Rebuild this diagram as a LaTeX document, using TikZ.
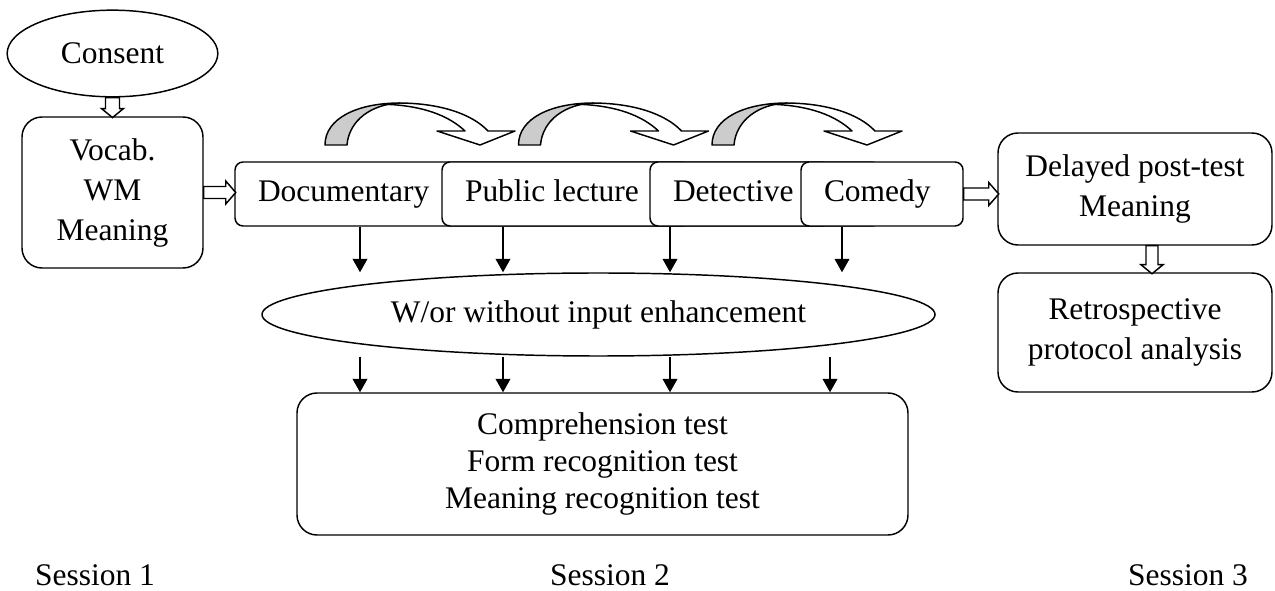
\documentclass[tikz,border=0pt]{standalone}
\usepackage{fontspec}
\setmainfont{Liberation Serif}
\usetikzlibrary{shapes.geometric,arrows.meta}

\tikzset{every picture/.style={line width=1.1pt}}
\tikzset{
  roundbox/.style={draw, rounded corners=15pt, align=center, inner sep=0pt},
  filmbox/.style={draw, fill=white, rounded corners=6pt, align=flush left, inner xsep=17.25pt, inner ysep=0pt, minimum height=48pt, text height=16pt, text depth=5pt},
  oval/.style={draw, ellipse, inner sep=0pt},
  downarrow/.style={-{Triangle[width=11pt,length=10pt]}},
  blockarrow/.style={draw, fill=white, line join=miter},
  bandfront/.style={draw, fill=white, line join=round},
  bandback/.style={draw, fill=gray!40, line join=round},
}

\begin{document}
\begin{tikzpicture}[x=0.75pt,y=0.75pt,yscale=-1,xscale=1, font=\fontsize{23.6}{30}\selectfont]

\useasboundingbox (0,0) rectangle (1275,591);

% session 1
\node [oval, minimum width=158pt, minimum height=65pt] (consent) at (112.5,53.5) {Consent};
\node [roundbox, minimum width=135.75pt, minimum height=113.25pt] (vocab) at (112.5,192.5) {Vocab.\\WM\\Meaning};

% session 2
\node [filmbox, text width=306.75pt] (doc) at (462.5,194) {Documentary};
\node [filmbox, text width=256.5pt] (lecture) at (636,194) {Public lecture};
\node [filmbox, text width=138pt] (detective) at (765,194) {Detective};
\node [filmbox, text width=87pt] (comedy) at (882,194) {Comedy};

\node [oval, minimum width=504.75pt, minimum height=62.25pt] (enh) at (598.5,314.5) {W/or without input enhancement};
\node [roundbox, minimum width=458.25pt, minimum height=106.5pt, font=\fontsize{23.6}{27.5}\selectfont] (tests) at (602.5,464) {Comprehension test\\Form recognition test\\Meaning recognition test};

% session 3
\node [roundbox, minimum width=205.5pt, minimum height=84pt] (delayed) at (1135,189) {Delayed post-test\\Meaning};
\node [roundbox, minimum width=205.5pt, minimum height=89.25pt] (retro) at (1135,332.5) {Retrospective\\protocol analysis};

\node (s1) at (95,575.5) {Session 1};
\node (s2) at (610,575.5) {Session 2};
\node (s3) at (1188,575.5) {Session 3};

% hollow arrows
\draw [blockarrow] (consent.south) ++(-7,0) -- ++(0,11) -- ++(-4,0) -- ++(11,9) -- ++(11,-9) -- ++(-4,0) -- ++(0,-11) -- cycle ;
\draw [blockarrow] (vocab.east) ++(0,-6) -- ++(22,0) -- ++(0,-5.5) -- ++(10,11.5) -- ++(-10,11.5) -- ++(0,-5.5) -- ++(-22,0) -- cycle ;
\draw [blockarrow] (comedy.east) ++(0,-6) -- ++(25,0) -- ++(0,-5.5) -- ++(10,11.5) -- ++(-10,11.5) -- ++(0,-5.5) -- ++(-25,0) -- cycle ;
\draw [blockarrow] ([xshift=12.75pt]delayed.south) ++(-6,0) -- ++(0,19) -- ++(-5,0) -- ++(11,9) -- ++(11,-9) -- ++(-5,0) -- ++(0,-19) -- cycle ;

% curved arrows over the clips
\draw [bandfront] (398,103) .. controls (440,103) and (472,114) .. (488,131) -- (515,131) -- (480,145) -- (437,131) -- (465,131) .. controls (448,115) and (422,106) .. (388,104.4) ;
\draw [bandback] (325,145) .. controls (325,118) and (358,103) .. (400,103) .. controls (372,104) and (349,120) .. (347,145) -- cycle ;

\begin{scope}[shift={(193.5,0)}]
\draw [bandfront] (398,103) .. controls (440,103) and (472,114) .. (488,131) -- (515,131) -- (480,145) -- (437,131) -- (465,131) .. controls (448,115) and (422,106) .. (388,104.4) ;
\draw [bandback] (325,145) .. controls (325,118) and (358,103) .. (400,103) .. controls (372,104) and (349,120) .. (347,145) -- cycle ;
\end{scope}

\begin{scope}[shift={(387,0)}]
\draw [bandfront] (398,103) .. controls (440,103) and (472,114) .. (488,131) -- (515,131) -- (480,145) -- (437,131) -- (465,131) .. controls (448,115) and (422,106) .. (388,104.4) ;
\draw [bandback] (325,145) .. controls (325,118) and (358,103) .. (400,103) .. controls (372,104) and (349,120) .. (347,145) -- cycle ;
\end{scope}

% clips to enhancement
\draw [downarrow] (360,0 |- doc.south) -- (360,0 |- enh.north) ;
\draw [downarrow] (503,0 |- lecture.south) -- (503,0 |- enh.north) ;
\draw [downarrow] (670,0 |- detective.south) -- (670,0 |- enh.north) ;
\draw [downarrow] (842,0 |- comedy.south) -- (842,0 |- enh.north) ;

% enhancement to tests
\draw [downarrow] (360,0 |- enh.south) -- (360,0 |- tests.north) ;
\draw [downarrow] (503,0 |- enh.south) -- (503,0 |- tests.north) ;
\draw [downarrow] (670,0 |- enh.south) -- (670,0 |- tests.north) ;
\draw [downarrow] (830,0 |- enh.south) -- (830,0 |- tests.north) ;

\end{tikzpicture}
\end{document}
